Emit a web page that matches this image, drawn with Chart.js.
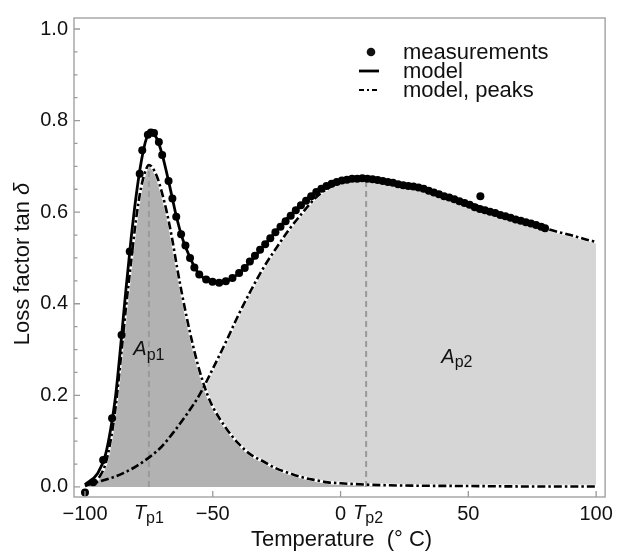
<!DOCTYPE html>
<html lang="en">
<head>
<meta charset="UTF-8">
<title>Loss factor tan delta vs temperature</title>
<script src="https://cdn.jsdelivr.net/npm/chart.js"></script>
<style>
  body { margin: 0; background: #fff; }
  canvas { display: block; }
</style>
</head>
<body>
<canvas id="lossChart" width="618" height="554"></canvas>
<script>
  // measured points (temperature in deg C, loss factor)
  const tempMeas = [-100, -96.8, -92.9, -89.4, -85.7, -82.5, -78.6, -77.6, -75.4, -74.2,
    -73.0, -71.1, -69.8, -67.3, -65.8, -64.3, -62.4, -60.7, -58.9, -57.2,
    -55.3, -52.6, -50.1, -47.5, -44.9, -42.3, -39.7,
    -37.5, -35.5, -33.5, -31.5, -29.5, -27.5, -25.5, -23.5, -21.5, -19.5,
    -17.5, -15.5, -13.5, -11.5, -9.5, -7.5, -5.5, -3.5, -1.5, 0.5,
    2.5, 4.5, 6.5, 8.5, 10.5, 12.5, 14.5, 16.5, 18.5, 20.5,
    22.5, 24.5, 26.5, 28.5, 30.5, 32.5, 34.5, 36.5, 38.5, 40.5,
    42.5, 44.5, 46.5, 48.5, 50.5, 52.5, 54.7, 54.5,
    56.5, 58.5, 60.5, 62.5, 64.5, 66.5, 68.5, 70.5, 72.5, 74.5, 76.5, 78.5, 80.0];
  const lossMeas = [-0.012, 0.010, 0.059, 0.150, 0.332, 0.514, 0.684, 0.735, 0.769, 0.774,
    0.773, 0.753, 0.725, 0.668, 0.630, 0.590, 0.552, 0.527, 0.500, 0.479,
    0.464, 0.453, 0.448, 0.446, 0.449, 0.456, 0.467,
    0.478, 0.492, 0.505, 0.518, 0.530, 0.543, 0.556, 0.568, 0.580, 0.592,
    0.604, 0.615, 0.625, 0.635, 0.644, 0.651, 0.657, 0.662, 0.666, 0.669,
    0.671, 0.673, 0.673, 0.674, 0.673, 0.672, 0.670, 0.668, 0.666, 0.664,
    0.661, 0.659, 0.657, 0.656, 0.654, 0.651, 0.647, 0.643, 0.639, 0.635,
    0.632, 0.628, 0.624, 0.620, 0.616, 0.611, 0.635, 0.607,
    0.604, 0.601, 0.598, 0.594, 0.591, 0.588, 0.584, 0.581, 0.578, 0.575, 0.572, 0.568, 0.565];

  // model (sum of both peaks)
  const tempModel = [-100, -95, -92, -90, -88, -86, -84, -82, -80, -78, -76, -74, -72, -70, -68, -66, -64, -62,
    -60, -58, -56, -54, -52, -50, -48, -46, -44, -42, -40, -35, -30, -25, -20, -15, -10, -5,
    0, 5, 10, 15, 20, 25, 30, 35, 40, 45, 50, 55, 60, 65, 70, 75, 80];
  const lossModel = [0.005, 0.030, 0.070, 0.125, 0.200, 0.310, 0.430, 0.540, 0.635, 0.710, 0.760, 0.772, 0.762, 0.730, 0.685, 0.635, 0.585, 0.545,
    0.515, 0.490, 0.470, 0.458, 0.451, 0.447, 0.446, 0.447, 0.451, 0.457, 0.466, 0.493, 0.527, 0.560, 0.592, 0.619, 0.643, 0.658,
    0.667, 0.672, 0.674, 0.671, 0.666, 0.660, 0.654, 0.646, 0.637, 0.628, 0.619, 0.609, 0.599, 0.590, 0.581, 0.573, 0.565];

  // peak 1 of the model
  const tempPeak1 = [-100, -96, -94, -92, -90, -88, -86, -84, -82, -80, -78, -76, -75, -74, -72, -70, -68, -66, -64, -62,
    -60, -58, -56, -54, -52, -50, -45, -40, -35, -30, -25, -20, -15, -10, -5, 0, 10, 25, 50, 75, 100];
  const lossPeak1 = [0.002, 0.012, 0.025, 0.050, 0.100, 0.175, 0.280, 0.390, 0.490, 0.585, 0.655, 0.695, 0.703, 0.700, 0.680, 0.645, 0.600, 0.545, 0.480, 0.420,
    0.365, 0.315, 0.270, 0.232, 0.200, 0.175, 0.130, 0.095, 0.070, 0.055, 0.040, 0.030, 0.021, 0.015, 0.010, 0.008, 0.005, 0.003, 0.002, 0.001, 0.001];

  // peak 2 of the model
  const tempPeak2 = [-100, -95, -90, -85, -80, -75, -70, -65, -60, -55, -50, -45, -40, -35, -30, -25, -20, -15, -10, -5,
    0, 5, 10, 15, 20, 25, 30, 35, 40, 45, 50, 55, 60, 65, 70, 75, 80, 85, 90, 95, 100];
  const lossPeak2 = [0.004, 0.011, 0.019, 0.030, 0.045, 0.064, 0.088, 0.122, 0.160, 0.203, 0.258, 0.315, 0.375, 0.430, 0.480, 0.523, 0.563, 0.598, 0.630, 0.652,
    0.665, 0.671, 0.673, 0.671, 0.666, 0.660, 0.654, 0.646, 0.638, 0.629, 0.620, 0.611, 0.600, 0.591, 0.582, 0.573, 0.565, 0.557, 0.550, 0.542, 0.535];

  // peak positions and heights
  const peakTemps = [-75, 10];
  const peakHeights = [0.703, 0.673];
  const peakSubs = ['p1', 'p2'];
  const areaLabelPos = [[-75, 0.303], [45.5, 0.286]];

  const xTicks = [-100, -50, 0, 50, 100];
  const yTicks = [0, 0.2, 0.4, 0.6, 0.8, 1.0];
  const yMinorTicks = [0.05, 0.1, 0.15, 0.25, 0.3, 0.35, 0.45, 0.5, 0.55, 0.65, 0.7, 0.75, 0.85, 0.9, 0.95];

  const FONT = '"Liberation Sans", Arial, sans-serif';
  const DASHDOT = [8, 3, 2.5, 3];
  const pts = (xs, ys) => xs.map((t, i) => ({ x: t, y: ys[i] }));

  // italic letter with a small subscript, centred on cx
  function subLabel(ctx, base, sub, cx, baseline, size) {
    ctx.font = 'italic ' + size + 'px ' + FONT;
    const wb = ctx.measureText(base).width;
    ctx.font = Math.round(size * 0.78) + 'px ' + FONT;
    const ws = ctx.measureText(sub).width;
    const left = cx - (wb + ws) / 2;
    ctx.textAlign = 'left';
    ctx.textBaseline = 'alphabetic';
    ctx.font = 'italic ' + size + 'px ' + FONT;
    ctx.fillText(base, left, baseline);
    ctx.font = Math.round(size * 0.78) + 'px ' + FONT;
    ctx.fillText(sub, left + wb, baseline + size * 0.22);
  }

  const decor = {
    id: 'decor',
    afterDraw(chart) {
      const { ctx, chartArea: a, scales: { x, y } } = chart;
      ctx.save();

      // frame + inward ticks
      ctx.strokeStyle = '#9a9a9a';
      ctx.lineWidth = 1.3;
      ctx.strokeRect(a.left, a.top, a.right - a.left, a.bottom - a.top);
      ctx.beginPath();
      yTicks.forEach(v => { const py = y.getPixelForValue(v); ctx.moveTo(a.left, py); ctx.lineTo(a.left + 6, py); });
      yMinorTicks.forEach(v => { const py = y.getPixelForValue(v); ctx.moveTo(a.left, py); ctx.lineTo(a.left + 3.5, py); });
      xTicks.forEach(v => { const px = x.getPixelForValue(v); ctx.moveTo(px, a.bottom); ctx.lineTo(px, a.bottom - 6); });
      ctx.stroke();

      ctx.fillStyle = '#111';
      // T_p1, T_p2 under the axis
      peakTemps.forEach((t, i) => {
        const px = x.getPixelForValue(t) + (i === 1 ? 2 : 0);
        subLabel(ctx, 'T', peakSubs[i], px, 519, 20);
      });
      // A_p1, A_p2 area labels
      areaLabelPos.forEach((p, i) => {
        subLabel(ctx, 'A', peakSubs[i], x.getPixelForValue(p[0]), y.getPixelForValue(p[1]) + 7, 20);
      });

      // axis titles
      ctx.font = '22px ' + FONT;
      ctx.textAlign = 'center';
      ctx.textBaseline = 'alphabetic';
      ctx.fillText('Temperature  (\u00b0 C)', (a.left + a.right) / 2 + 2, 546);

      ctx.save();
      ctx.translate(29, 264);
      ctx.rotate(-Math.PI / 2);
      ctx.font = '22px ' + FONT;
      const t1 = 'Loss factor tan ';
      const w1 = ctx.measureText(t1).width;
      ctx.font = 'italic 22px ' + FONT;
      const w2 = ctx.measureText('\u03b4').width;
      ctx.textAlign = 'left';
      ctx.font = '22px ' + FONT;
      ctx.fillText(t1, -(w1 + w2) / 2, 0);
      ctx.font = 'italic 22px ' + FONT;
      ctx.fillText('\u03b4', -(w1 + w2) / 2 + w1, 0);
      ctx.restore();

      // legend
      ctx.font = '22px ' + FONT;
      ctx.textAlign = 'left';
      ctx.textBaseline = 'middle';
      ctx.fillStyle = '#111';
      ctx.beginPath();
      ctx.arc(371, 52, 4.3, 0, Math.PI * 2);
      ctx.fill();
      ctx.fillText('measurements', 403, 53);
      ctx.strokeStyle = '#000';
      ctx.lineWidth = 2.8;
      ctx.beginPath();
      ctx.moveTo(359, 71); ctx.lineTo(379, 71);
      ctx.stroke();
      ctx.fillText('model', 403, 72);
      ctx.lineWidth = 2.2;
      ctx.setLineDash([5, 3, 2, 3]);
      ctx.beginPath();
      ctx.moveTo(359, 90); ctx.lineTo(380, 90);
      ctx.stroke();
      ctx.setLineDash([]);
      ctx.fillText('model, peaks', 403, 91);

      ctx.restore();
    }
  };

  const ctx = document.getElementById('lossChart').getContext('2d');
  const lossChart = new Chart(ctx, {
    type: 'line',
    data: {
      datasets: [
        { label: 'measurements', data: pts(tempMeas, lossMeas), showLine: false,
          pointRadius: 4, pointBackgroundColor: '#000', pointBorderWidth: 0, order: 0 },
        { label: 'model', data: pts(tempModel, lossModel), borderColor: '#000', borderWidth: 2.8,
          pointRadius: 0, cubicInterpolationMode: 'monotone', order: 1 },
        { label: 'peak 1', data: pts(tempPeak1, lossPeak1), borderColor: '#000', borderWidth: 2.6,
          borderDash: DASHDOT, pointRadius: 0, cubicInterpolationMode: 'monotone', order: 2 },
        { label: 'peak 2', data: pts(tempPeak2, lossPeak2), borderColor: '#000', borderWidth: 2.6,
          borderDash: DASHDOT, pointRadius: 0, cubicInterpolationMode: 'monotone', order: 3 },
        { label: 'Tp1', data: [{ x: peakTemps[0], y: 0 }, { x: peakTemps[0], y: peakHeights[0] }],
          borderColor: '#9a9a9a', borderWidth: 2, borderDash: [6, 4], pointRadius: 0, order: 4 },
        { label: 'Tp2', data: [{ x: peakTemps[1], y: 0 }, { x: peakTemps[1], y: peakHeights[1] }],
          borderColor: '#9a9a9a', borderWidth: 2, borderDash: [6, 4], pointRadius: 0, order: 4 },
        { label: 'area 1', data: pts(tempPeak1, lossPeak1), fill: 'origin', backgroundColor: '#b2b2b2',
          borderColor: '#fff', borderWidth: 3.2, pointRadius: 0, cubicInterpolationMode: 'monotone', order: 5 },
        { label: 'area 2', data: pts(tempPeak2, lossPeak2), fill: 'origin', backgroundColor: '#d6d6d6',
          borderColor: '#fff', borderWidth: 3.2, pointRadius: 0, cubicInterpolationMode: 'monotone', order: 6 }
      ]
    },
    options: {
      responsive: false,
      animation: false,
      devicePixelRatio: 1,
      layout: { padding: { top: 15, right: 10, left: 0, bottom: 0 } },
      plugins: { legend: { display: false }, tooltip: { enabled: false } },
      scales: {
        x: {
          type: 'linear', min: -104.3, max: 103.5,
          grid: { display: false, drawTicks: false }, border: { display: false },
          afterBuildTicks: s => { s.ticks = xTicks.map(v => ({ value: v })); },
          afterFit: s => { s.height = 57; },
          ticks: { padding: 5, autoSkip: false, maxRotation: 0, color: '#111',
            font: { family: FONT, size: 20 },
            callback: v => v < 0 ? '\u2212' + (-v) : String(v) }
        },
        y: {
          min: -0.022, max: 1.024,
          grid: { display: false, drawTicks: false }, border: { display: false },
          afterBuildTicks: s => { s.ticks = yTicks.map(v => ({ value: v })); },
          afterFit: s => { s.width = 74; },
          ticks: { padding: 6, color: '#111', font: { family: FONT, size: 20 },
            callback: v => v.toFixed(1) }
        }
      }
    },
    plugins: [decor]
  });
</script>
</body>
</html>
